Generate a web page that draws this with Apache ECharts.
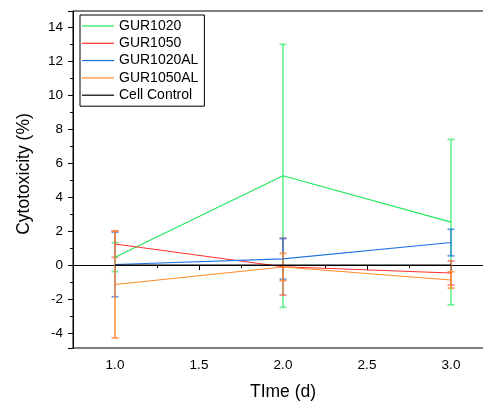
<!DOCTYPE html>
<html>
<head>
<meta charset="utf-8">
<script src="https://cdn.jsdelivr.net/npm/echarts@6/dist/echarts.min.js"></script>
<style>html,body{margin:0;padding:0;background:#fff;}#c{width:483px;height:405px;}</style>
</head>
<body>
<div id="c"></div>
<script>
// ---- data ----
const days = [1, 2, 3];
const seriesNames = ['GUR1020', 'GUR1050', 'GUR1020AL', 'GUR1050AL', 'Cell Control'];
const gur1020 = [0.47, 5.25, 2.53];
const gur1020Err = [0.85, 7.73, 4.86];
const gur1050 = [1.24, -0.09, -0.46];
const gur1050Err = [0.78, 1.67, 0.71];
const gur1020al = [0.04, 0.37, 1.33];
const gur1020alErr = [1.90, 1.20, 0.78];
const gur1050al = [-1.14, -0.11, -0.87];
const gur1050alErr = [3.14, 0.80, 0.48];
const cellControl = [0, 0, 0];
const cellControlErr = [0, 0, 0];
const xTickLabels = ['1.0', '1.5', '2.0', '2.5', '3.0'];
const yTickLabels = ['-4', '-2', '0', '2', '4', '6', '8', '10', '12', '14'];

const lineColors = ['#22e85a', '#ff3030', '#1f74e0', '#ff8a26', '#000000'];
const barColors = ['rgba(60,235,110,0.7)', 'rgba(255,70,70,0.6)', 'rgba(40,120,225,0.7)', 'rgba(255,140,50,0.8)', 'rgba(0,0,0,0.6)'];
const allVals = [gur1020, gur1050, gur1020al, gur1050al, cellControl];
const allErrs = [gur1020Err, gur1050Err, gur1020alErr, gur1050alErr, cellControlErr];

const FONT = 'Liberation Sans, Arial, sans-serif';

function errRender(color) {
  return function (params, api) {
    const x = api.value(0), lo = api.value(1), hi = api.value(2);
    if (hi === lo) return null;
    const a = api.coord([x, lo]), b = api.coord([x, hi]);
    const hw = 3.5;
    const st = { stroke: color, lineWidth: 1.8, fill: null };
    return {
      type: 'group',
      children: [
        { type: 'line', shape: { x1: a[0], y1: a[1], x2: b[0], y2: b[1] }, style: st },
        { type: 'line', shape: { x1: a[0] - hw, y1: a[1], x2: a[0] + hw, y2: a[1] }, style: st },
        { type: 'line', shape: { x1: b[0] - hw, y1: b[1], x2: b[0] + hw, y2: b[1] }, style: st }
      ]
    };
  };
}

const series = [];
seriesNames.forEach((name, k) => {
  series.push({
    type: 'custom',
    name: name + ' err',
    renderItem: errRender(barColors[k]),
    data: days.map((d, i) => [d, allVals[k][i] - allErrs[k][i], allVals[k][i] + allErrs[k][i]]),
    z: 2 + k * 0.01,
    silent: true
  });
});
seriesNames.forEach((name, k) => {
  series.push({
    type: 'line',
    name: name,
    data: days.map((d, i) => [d, allVals[k][i]]),
    symbol: 'none',
    showSymbol: false,
    lineStyle: { color: lineColors[k], width: 1.1 },
    itemStyle: { color: lineColors[k] },
    z: 3 + k * 0.01,
    animation: false
  });
});

function near(v, arr) {
  for (const s of arr) { if (Math.abs(v - parseFloat(s)) < 1e-6) return s; }
  return '';
}

const chart = echarts.init(document.getElementById('c'), null, { renderer: 'canvas' });
chart.setOption({
  animation: false,
  backgroundColor: '#fff',
  grid: {
    left: 73, width: 420, top: 11, height: 337,
    outerBoundsMode: 'none',
    containLabel: false,
    show: true, borderColor: '#000', borderWidth: 1, backgroundColor: 'transparent'
  },
  legend: {
    data: seriesNames,
    orient: 'vertical',
    left: 80, top: 15,
    padding: [4, 6, 4, 2],
    itemGap: 3.3,
    itemWidth: 32,
    itemHeight: 14,
    icon: 'path://M0,0 L32,0 L32,1.2 L0,1.2 Z',
    symbolKeepAspect: true,
    borderColor: '#000',
    borderWidth: 1,
    textStyle: { fontFamily: FONT, fontSize: 14, color: '#000' }
  },
  xAxis: {
    type: 'value',
    min: 0.75, max: 3.25,
    splitNumber: 5,
    name: 'TIme (d)',
    nameLocation: 'middle',
    nameGap: 35,
    nameTextStyle: { fontFamily: FONT, fontSize: 17.5, color: '#000' },
    axisLine: { show: true, lineStyle: { color: '#000', width: 1 } },
    axisTick: { show: true, inside: false, length: 5, lineStyle: { color: '#000' } },
    minorTick: { show: true, splitNumber: 2, length: 3, lineStyle: { color: '#000' } },
    splitLine: { show: false },
    minorSplitLine: { show: false },
    axisLabel: {
      fontFamily: FONT, fontSize: 13.5, color: '#000', margin: 10,
      formatter: v => near(v, xTickLabels)
    }
  },
  yAxis: {
    type: 'value',
    min: -4.87, max: 14.94,
    splitNumber: 10,
    name: 'Cytotoxicity (%)',
    nameLocation: 'middle',
    nameGap: 40,
    nameTextStyle: { fontFamily: FONT, fontSize: 17.5, color: '#000', padding: [0, 0, 0, 11] },
    axisLine: { show: true, lineStyle: { color: '#000', width: 1 } },
    axisTick: { show: true, inside: false, length: 5, lineStyle: { color: '#000' } },
    minorTick: { show: true, splitNumber: 2, length: 3, lineStyle: { color: '#000' } },
    splitLine: { show: false },
    minorSplitLine: { show: false },
    axisLabel: {
      fontFamily: FONT, fontSize: 13.5, color: '#000', margin: 10,
      formatter: v => near(v, yTickLabels)
    }
  },
  series: series
});
</script>
</body>
</html>
